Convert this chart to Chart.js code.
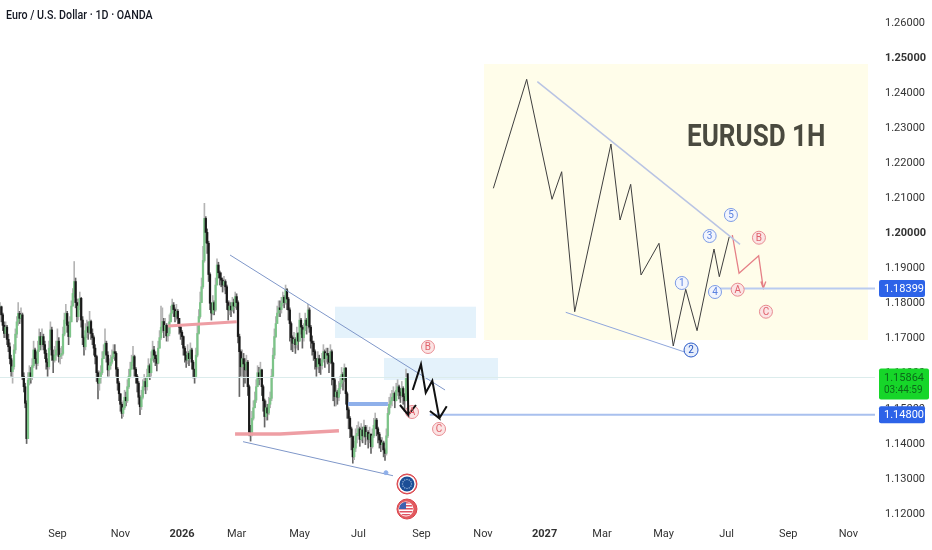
<!DOCTYPE html>
<html>
<head>
<meta charset="utf-8">
<style>
  html, body { margin: 0; padding: 0; background: #fff; }
  #wrap { width: 932px; height: 550px; }
</style>
<script src="https://cdn.jsdelivr.net/npm/chart.js@4"></script>
</head>
<body>
<div id="wrap"><canvas id="eurusd" width="932" height="550"></canvas></div>
<script>
// daily candles
const closes = [
  1.1788,1.1765,1.1735,1.1712,1.1730,1.1695,1.1674,1.1640,1.1603,1.1617,
  1.1665,1.1710,1.1745,1.1769,1.1755,1.1765,1.1589,1.1560,1.1513,1.1412,
  1.1579,1.1600,1.1589,1.1620,1.1665,1.1640,1.1627,1.1665,1.1703,1.1680,
  1.1703,1.1680,1.1655,1.1630,1.1617,1.1670,1.1722,1.1650,1.1636,1.1650,
  1.1665,1.1690,1.1646,1.1650,1.1655,1.1710,1.1750,1.1769,1.1735,1.1703,
  1.1745,1.1790,1.1826,1.1860,1.1800,1.1760,1.1790,1.1812,1.1750,1.1700,
  1.1674,1.1720,1.1731,1.1715,1.1746,1.1712,1.1700,1.1670,1.1646,1.1600,
  1.1570,1.1585,1.1600,1.1640,1.1660,1.1684,1.1650,1.1608,1.1620,1.1630,
  1.1645,1.1660,1.1655,1.1610,1.1570,1.1540,1.1510,1.1484,1.1500,1.1530,
  1.1520,1.1560,1.1590,1.1610,1.1630,1.1646,1.1610,1.1590,1.1570,1.1530,
  1.1503,1.1530,1.1560,1.1575,1.1560,1.1589,1.1620,1.1600,1.1640,1.1665,
  1.1650,1.1640,1.1627,1.1670,1.1700,1.1730,1.1746,1.1720,1.1735,1.1705,
  1.1712,1.1745,1.1770,1.1793,1.1780,1.1760,1.1775,1.1755,1.1730,1.1715,
  1.1703,1.1670,1.1650,1.1636,1.1655,1.1640,1.1665,1.1630,1.1610,1.1589,
  1.1650,1.1712,1.1760,1.1800,1.1845,1.1920,1.2040,1.2000,1.1969,1.1880,
  1.1798,1.1770,1.1800,1.1779,1.1850,1.1907,1.1885,1.1870,1.1864,1.1850,
  1.1860,1.1845,1.1800,1.1779,1.1790,1.1779,1.1800,1.1790,1.1817,1.1800,
  1.1703,1.1660,1.1617,1.1640,1.1625,1.1608,1.1630,1.1560,1.1430,1.1427,
  1.1470,1.1500,1.1522,1.1560,1.1600,1.1585,1.1608,1.1560,1.1520,1.1475,
  1.1500,1.1485,1.1510,1.1527,1.1590,1.1650,1.1703,1.1740,1.1770,1.1785,
  1.1780,1.1798,1.1815,1.1800,1.1836,1.1810,1.1779,1.1740,1.1700,1.1684,
  1.1695,1.1680,1.1712,1.1690,1.1750,1.1730,1.1700,1.1722,1.1750,1.1735,
  1.1779,1.1730,1.1690,1.1684,1.1660,1.1640,1.1617,1.1640,1.1625,1.1620,
  1.1636,1.1660,1.1640,1.1655,1.1650,1.1630,1.1660,1.1627,1.1580,1.1532,
  1.1545,1.1530,1.1555,1.1570,1.1595,1.1580,1.1613,1.1540,1.1494,1.1470,
  1.1440,1.1418,1.1360,1.1385,1.1420,1.1427,1.1440,1.1410,1.1437,1.1420,
  1.1445,1.1418,1.1430,1.1410,1.1425,1.1389,1.1420,1.1450,1.1465,1.1440,
  1.1425,1.1408,1.1395,1.1400,1.1380,1.1370,1.1420,1.1484,1.1510,1.1520,
  1.1530,1.1541,1.1520,1.1550,1.1560,1.1545,1.1535,1.1555,1.1532,1.1520,1.15864
];
const highs = [
  1.1800,1.1790,1.1770,1.1745,1.1745,1.1735,1.1710,1.1685,1.1650,1.1635,
  1.1680,1.1725,1.1760,1.1800,1.1775,1.1785,1.1770,1.1600,1.1570,1.1520,
  1.1600,1.1620,1.1615,1.1640,1.1690,1.1670,1.1660,1.1690,1.1725,1.1715,
  1.1725,1.1710,1.1690,1.1665,1.1640,1.1690,1.1745,1.1730,1.1665,1.1675,
  1.1690,1.1725,1.1700,1.1670,1.1675,1.1730,1.1770,1.1795,1.1775,1.1745,
  1.1760,1.1805,1.1840,1.1917,1.1870,1.1810,1.1810,1.1830,1.1815,1.1760,
  1.1705,1.1740,1.1750,1.1745,1.1775,1.1750,1.1725,1.1705,1.1680,1.1650,
  1.1605,1.1605,1.1620,1.1660,1.1680,1.1725,1.1690,1.1660,1.1640,1.1650,
  1.1665,1.1680,1.1680,1.1660,1.1615,1.1575,1.1540,1.1515,1.1520,1.1550,
  1.1545,1.1580,1.1610,1.1630,1.1650,1.1675,1.1650,1.1615,1.1595,1.1575,
  1.1535,1.1550,1.1580,1.1595,1.1585,1.1610,1.1640,1.1625,1.1660,1.1690,
  1.1675,1.1660,1.1650,1.1690,1.1720,1.1790,1.1785,1.1755,1.1755,1.1740,
  1.1730,1.1765,1.1790,1.1810,1.1800,1.1785,1.1795,1.1780,1.1755,1.1735,
  1.1720,1.1705,1.1675,1.1660,1.1680,1.1660,1.1685,1.1670,1.1635,1.1610,
  1.1670,1.1735,1.1780,1.1830,1.1870,1.1960,1.2083,1.2045,1.2010,1.1975,
  1.1885,1.1800,1.1820,1.1805,1.1870,1.1925,1.1915,1.1890,1.1885,1.1870,
  1.1875,1.1865,1.1850,1.1805,1.1805,1.1800,1.1815,1.1810,1.1830,1.1825,
  1.1805,1.1710,1.1665,1.1665,1.1655,1.1640,1.1650,1.1635,1.1565,1.1450,
  1.1490,1.1520,1.1545,1.1580,1.1620,1.1615,1.1630,1.1610,1.1565,1.1525,
  1.1520,1.1510,1.1530,1.1545,1.1610,1.1670,1.1725,1.1760,1.1790,1.1805,
  1.1805,1.1815,1.1830,1.1820,1.1850,1.1840,1.1815,1.1785,1.1745,1.1705,
  1.1715,1.1700,1.1730,1.1715,1.1770,1.1755,1.1735,1.1740,1.1770,1.1755,
  1.1795,1.1785,1.1735,1.1705,1.1690,1.1665,1.1640,1.1660,1.1650,1.1640,
  1.1655,1.1680,1.1665,1.1670,1.1670,1.1655,1.1680,1.1665,1.1630,1.1585,
  1.1565,1.1550,1.1575,1.1590,1.1615,1.1600,1.1625,1.1615,1.1545,1.1500,
  1.1475,1.1445,1.1420,1.1405,1.1440,1.1450,1.1460,1.1445,1.1455,1.1445,
  1.1465,1.1450,1.1450,1.1435,1.1445,1.1425,1.1440,1.1470,1.1485,1.1470,
  1.1445,1.1430,1.1415,1.1415,1.1405,1.1385,1.1440,1.1500,1.1530,1.1540,
  1.1550,1.1560,1.1545,1.1570,1.1580,1.1565,1.1555,1.1575,1.1560,1.1540,1.1610
];
const lows = [
  1.1770,1.1745,1.1720,1.1700,1.1700,1.1680,1.1660,1.1625,1.1590,1.1570,
  1.1610,1.1655,1.1700,1.1735,1.1740,1.1745,1.1580,1.1545,1.1500,1.1398,
  1.1530,1.1565,1.1570,1.1580,1.1615,1.1625,1.1610,1.1620,1.1660,1.1665,
  1.1675,1.1665,1.1640,1.1610,1.1590,1.1610,1.1665,1.1635,1.1600,1.1630,
  1.1635,1.1650,1.1630,1.1625,1.1640,1.1650,1.1705,1.1740,1.1715,1.1680,
  1.1700,1.1745,1.1790,1.1815,1.1785,1.1745,1.1750,1.1780,1.1730,1.1680,
  1.1650,1.1665,1.1700,1.1695,1.1710,1.1695,1.1680,1.1650,1.1625,1.1575,
  1.1525,1.1550,1.1570,1.1595,1.1640,1.1655,1.1630,1.1590,1.1590,1.1610,
  1.1625,1.1640,1.1635,1.1590,1.1550,1.1520,1.1490,1.1470,1.1475,1.1495,
  1.1505,1.1515,1.1555,1.1585,1.1610,1.1620,1.1590,1.1570,1.1545,1.1510,
  1.1480,1.1495,1.1525,1.1550,1.1540,1.1550,1.1585,1.1580,1.1590,1.1635,
  1.1630,1.1620,1.1605,1.1625,1.1670,1.1695,1.1715,1.1700,1.1705,1.1690,
  1.1690,1.1705,1.1745,1.1770,1.1760,1.1745,1.1750,1.1735,1.1710,1.1695,
  1.1680,1.1650,1.1630,1.1615,1.1625,1.1620,1.1640,1.1610,1.1585,1.1570,
  1.1585,1.1645,1.1710,1.1755,1.1800,1.1840,1.1915,1.1970,1.1940,1.1860,
  1.1780,1.1750,1.1765,1.1765,1.1775,1.1850,1.1870,1.1850,1.1845,1.1830,
  1.1835,1.1825,1.1780,1.1750,1.1765,1.1760,1.1775,1.1770,1.1785,1.1780,
  1.1685,1.1532,1.1590,1.1590,1.1560,1.1570,1.1590,1.1535,1.1420,1.1405,
  1.1420,1.1465,1.1500,1.1515,1.1575,1.1565,1.1580,1.1535,1.1490,1.1445,
  1.1465,1.1465,1.1480,1.1500,1.1520,1.1585,1.1640,1.1700,1.1745,1.1760,
  1.1760,1.1770,1.1790,1.1785,1.1795,1.1780,1.1750,1.1690,1.1665,1.1660,
  1.1670,1.1655,1.1670,1.1665,1.1690,1.1710,1.1670,1.1690,1.1720,1.1710,
  1.1725,1.1715,1.1670,1.1650,1.1635,1.1610,1.1590,1.1610,1.1600,1.1595,
  1.1610,1.1630,1.1615,1.1630,1.1625,1.1600,1.1625,1.1565,1.1520,1.1505,
  1.1505,1.1510,1.1520,1.1540,1.1560,1.1550,1.1575,1.1510,1.1470,1.1440,
  1.1415,1.1380,1.1342,1.1352,1.1375,1.1400,1.1420,1.1390,1.1405,1.1400,
  1.1415,1.1395,1.1405,1.1385,1.1400,1.1370,1.1385,1.1415,1.1440,1.1420,
  1.1400,1.1385,1.1375,1.1380,1.1360,1.1350,1.1365,1.1415,1.1480,1.1500,
  1.1505,1.1520,1.1500,1.1520,1.1535,1.1525,1.1515,1.1530,1.1510,1.1490,1.1520
];

// axes
const timeLabels = ['Sep','Nov','2026','Mar','May','Jul','Sep','Nov','2027','Mar','May','Jul','Sep','Nov'];
const timeTicks  = [41,86,130,169,214,256,301,345,389,430,474,519,563,606];
const priceTicks = [1.12,1.13,1.14,1.15,1.16,1.17,1.18,1.19,1.20,1.21,1.22,1.23,1.24,1.25,1.26];

// price levels
const lastPrice = 1.15864;
const levelLow = 1.148;
const levelHigh = 1.18399;

// drawings, as [bar, price]
const insetWave = [[352.4,1.21258],[376.2,1.24366],[394.3,1.20944],[401.2,1.21731],[410.5,1.17739],[436.4,1.22521],[442.9,1.20354],[450.5,1.21372],[457.9,1.18786],[470.7,1.1969],[480.9,1.16761],[489.8,1.18378],[497.9,1.17198],[510,1.19527],[513.8,1.18737],[520.9,1.19878]];
const insetCorrection = [[523.1,1.19926],[527.9,1.18834],[541.9,1.19336],[545.2,1.18407],[543.5,1.186],[545.2,1.18407],[547,1.186]];
const insetTop = [[383.8,1.24298],[528.6,1.19661]];
const insetBottom = [[404.1,1.17722],[490.5,1.1657]];
const wedgeTop = [[164.3,1.19356],[317.9,1.15507]];
const wedgeBottom = [[173.6,1.14033],[280.7,1.13063]];
const pinkUpper = [[120,1.17332],[169.1,1.17454]];
const pinkLower = [[167.9,1.14252],[200,1.14252],[242.1,1.14346]];
const blueZone = [[248.6,1.15107],[277.1,1.15107]];
const arrowA = [[291.2,1.15983],[291.6,1.14794],[285.7,1.15079],[291.6,1.14794],[297.1,1.15079]];
const arrowC = [[294.8,1.15507],[300.7,1.16239],[304.1,1.1543],[308.8,1.15772],[313.8,1.147],[307.1,1.14908],[313.8,1.147],[319.1,1.15042]];
const lineLow = [[307,levelLow],[625,levelLow]];
const lineHigh = [[507,levelHigh],[625,levelHigh]];
const lineLast = [[0,lastPrice],[625,lastPrice]];

// boxes as [bar from, bar to, price top, price bottom]
const insetBox = [345.7,620,1.24802,1.16933];
const zoneUpper = [239.3,340,1.17882,1.16989];
const zoneLower = [274.3,355.7,1.16419,1.15792];

// wave labels
const blueLabels = ['1','3','4','5'];
const blueLabelPts = [[487,1.18558],[506.9,1.19898],[510.7,1.18301],[522.1,1.20497]];
const darkLabels = ['2'];
const darkLabelPts = [[493.6,1.16647]];
const redLabels = ['A','B','C','A','B','C'];
const redLabelPts = [[526.9,1.18367],[542.1,1.19849],[547.1,1.17739],[294.3,1.14879],[305.7,1.16733],[313.6,1.14395]];
const newsPts = [[290.7,1.12827],[290.7,1.12113]];
const dotPts = [[275.7,1.13148]];

const pts = a => a.map(p => ({ x: p[0], y: p[1] }));
const line = (a, color, width, order = 1) => ({
  type: 'line', data: pts(a), borderColor: color, borderWidth: width,
  pointRadius: 0, tension: 0, order, fill: false
});
const marks = (a, fill, stroke, radius) => ({
  type: 'line', data: pts(a), showLine: false, pointRadius: radius,
  pointBackgroundColor: fill, pointBorderColor: stroke, pointBorderWidth: 1, order: 0
});

const opens = closes.map((c, i) => i ? closes[i - 1] : c);
const upColor = '#7cc488';
const downColor = '#1a1a1a';

const noPadding = s => { s.paddingLeft = s.paddingRight = s.paddingTop = s.paddingBottom = 0; };

const overlay = {
  id: 'overlay',
  beforeDatasetsDraw(chart) {
    const { ctx, scales: { x, y } } = chart;
    const box = (b, c) => {
      ctx.fillStyle = c;
      ctx.fillRect(x.getPixelForValue(b[0]), y.getPixelForValue(b[2]),
        x.getPixelForValue(b[1]) - x.getPixelForValue(b[0]), y.getPixelForValue(b[3]) - y.getPixelForValue(b[2]));
    };
    box(insetBox, '#fffdea');
    box(zoneUpper, '#e4f2fb');
    box(zoneLower, '#e4f2fb');
  },
  afterDatasetsDraw(chart) {
    const { ctx, scales: { x, y } } = chart;
    ctx.save();
    ctx.textAlign = 'center';
    ctx.textBaseline = 'middle';
    const write = (names, where, color) => {
      ctx.fillStyle = color;
      ctx.font = '10px Roboto';
      names.forEach((t, i) => ctx.fillText(t, x.getPixelForValue(where[i][0]), y.getPixelForValue(where[i][1]) + 0.5));
    };
    write(blueLabels, blueLabelPts, '#5b82e0');
    write(darkLabels, darkLabelPts, '#1f4fc0');
    write(redLabels, redLabelPts, '#e0606a');

    // inner part of the two calendar icons
    const ex = x.getPixelForValue(newsPts[0][0]), ey = y.getPixelForValue(newsPts[0][1]);
    ctx.fillStyle = '#fff';
    ctx.beginPath(); ctx.arc(ex, ey, 9, 0, 7); ctx.fill();
    ctx.fillStyle = '#1c4e96';
    ctx.beginPath(); ctx.arc(ex, ey, 7.5, 0, 7); ctx.fill();
    ctx.fillStyle = '#9db8dc';
    for (let a = 0; a < 12; a++) {
      ctx.fillRect(ex + Math.cos(a * Math.PI / 6) * 4.5 - 0.6, ey + Math.sin(a * Math.PI / 6) * 4.5 - 0.6, 1.2, 1.2);
    }
    const ux = x.getPixelForValue(newsPts[1][0]), uy = y.getPixelForValue(newsPts[1][1]);
    ctx.fillStyle = '#fff';
    ctx.beginPath(); ctx.arc(ux - 1, uy, 7.5, 0, 7); ctx.fill();
    ctx.save();
    ctx.beginPath(); ctx.arc(ux - 1, uy, 7, 0, 7); ctx.clip();
    ctx.fillStyle = '#e05060';
    for (let r = -7; r < 7; r += 3) ctx.fillRect(ux - 8, uy + r, 14, 1.5);
    ctx.fillStyle = '#3f5fae';
    ctx.fillRect(ux - 8, uy - 7, 7, 7);
    ctx.restore();
    ctx.restore();
  },
  afterDraw(chart) {
    const { ctx, chartArea, scales: { y } } = chart;
    const left = chartArea.right + 4;
    const tag = (price, w, color) => {
      const cy = y.getPixelForValue(price);
      ctx.fillStyle = color;
      ctx.beginPath(); ctx.roundRect(left, cy - 8.5, w, 17, 2); ctx.fill();
      ctx.fillStyle = '#fff';
      ctx.font = '11px Roboto';
      ctx.textAlign = 'left';
      ctx.textBaseline = 'middle';
      ctx.fillText(price.toFixed(5), left + 5, cy + 0.5);
    };
    ctx.save();
    tag(levelHigh, 46, '#2d63e8');
    ctx.fillStyle = '#16d629';
    const gy = y.getPixelForValue(lastPrice);
    ctx.beginPath(); ctx.roundRect(left, gy - 9, 50, 31, 2); ctx.fill();
    ctx.fillStyle = '#0c6a1a';
    ctx.font = '11px Roboto';
    ctx.textAlign = 'left';
    ctx.textBaseline = 'middle';
    ctx.fillText(lastPrice.toFixed(5), left + 5, gy + 0.5);
    ctx.font = '10px Roboto';
    ctx.fillText('03:44:59', left + 5, gy + 13);
    tag(levelLow, 46, '#2d63e8');

    ctx.save();
    ctx.translate(687, 138);
    ctx.scale(0.84, 1);
    ctx.fillStyle = '#4a4a3f';
    ctx.font = '700 31px Roboto';
    ctx.fillText('EURUSD 1H', 0, 0);
    ctx.restore();

    ctx.save();
    ctx.translate(6, 16);
    ctx.scale(0.89, 1);
    ctx.fillStyle = '#131722';
    ctx.font = '500 12px Roboto';
    ctx.fillText('Euro / U.S. Dollar · 1D · OANDA', 0, 0);
    ctx.restore();
    ctx.restore();
  }
};

new Chart(document.getElementById('eurusd'), {
  type: 'bar',
  plugins: [overlay],
  data: {
    datasets: [
      line(lineLast, '#dcecec', 1),
      line(lineLow, '#a9c0ee', 2),
      line(lineHigh, '#b9cbf0', 2),
      line(blueZone, '#8fb0ea', 4),
      line(pinkUpper, '#ee9ea4', 3),
      line(pinkLower, '#ee9ea4', 3.5),
      line(wedgeTop, '#7f97c9', 1),
      line(wedgeBottom, '#7f97c9', 1),
      line(insetTop, '#b9c4e4', 1.5),
      line(insetBottom, '#8fa6dc', 1),
      line(insetWave, '#3f3f3f', 1),
      line(insetCorrection, '#e57f86', 1.3),
      line(arrowA, '#111', 2, -1),
      line(arrowC, '#111', 2, -1),
      marks(blueLabelPts, '#f2f5fd', '#7c9be6', 6.5),
      marks(darkLabelPts, '#e6edfb', '#2b5bc8', 7),
      marks(redLabelPts, '#fbe4e4', '#e88c92', 6.5),
      marks(newsPts, '#e25a5f', '#d9434a', 10),
      marks(dotPts, '#8fb0ea', '#8fb0ea', 2),
      {
        // wicks
        data: lows.map((l, i) => ({ x: i, y: [l, highs[i]] })),
        backgroundColor: closes.map((c, i) => c >= opens[i] ? '#b4b4b4' : '#666'),
        barThickness: 1, grouped: false, order: 3
      },
      {
        // bodies
        data: closes.map((c, i) => ({ x: i, y: [opens[i], c] })),
        backgroundColor: closes.map((c, i) => c >= opens[i] ? upColor : downColor),
        barThickness: 1.6, grouped: false, order: 2
      }
    ]
  },
  options: {
    responsive: false,
    animation: false,
    layout: { padding: 0, autoPadding: false },
    plugins: { legend: { display: false }, tooltip: { enabled: false } },
    scales: {
      x: {
        type: 'linear', min: 0, max: 625, offset: false,
        grid: { display: false, drawTicks: false },
        border: { display: false },
        afterBuildTicks(s) { s.ticks = timeTicks.map(v => ({ value: v })); },
        afterFit(s) { s.height = 30; noPadding(s); },
        ticks: {
          autoSkip: false, maxRotation: 0, padding: 8, color: '#333',
          font: c => ({ family: 'Roboto', size: 11, weight: [130, 389].includes(c.tick && c.tick.value) ? '700' : '400' }),
          callback: (v, i) => timeLabels[i]
        }
      },
      y: {
        position: 'right', min: 1.118, max: 1.26627,
        grid: { display: false, drawTicks: false },
        border: { display: false },
        afterBuildTicks(s) { s.ticks = priceTicks.map(v => ({ value: v })); },
        afterFit(s) { s.width = 57; noPadding(s); },
        ticks: {
          autoSkip: false, padding: 10, color: '#333', labelOffset: 1,
          font: c => ({ family: 'Roboto', size: 11, weight: c.tick && (Math.abs(c.tick.value - 1.25) < 1e-6 || Math.abs(c.tick.value - 1.2) < 1e-6) ? '700' : '400' }),
          callback: v => v.toFixed(5)
        }
      }
    }
  }
});
</script>
</body>
</html>
